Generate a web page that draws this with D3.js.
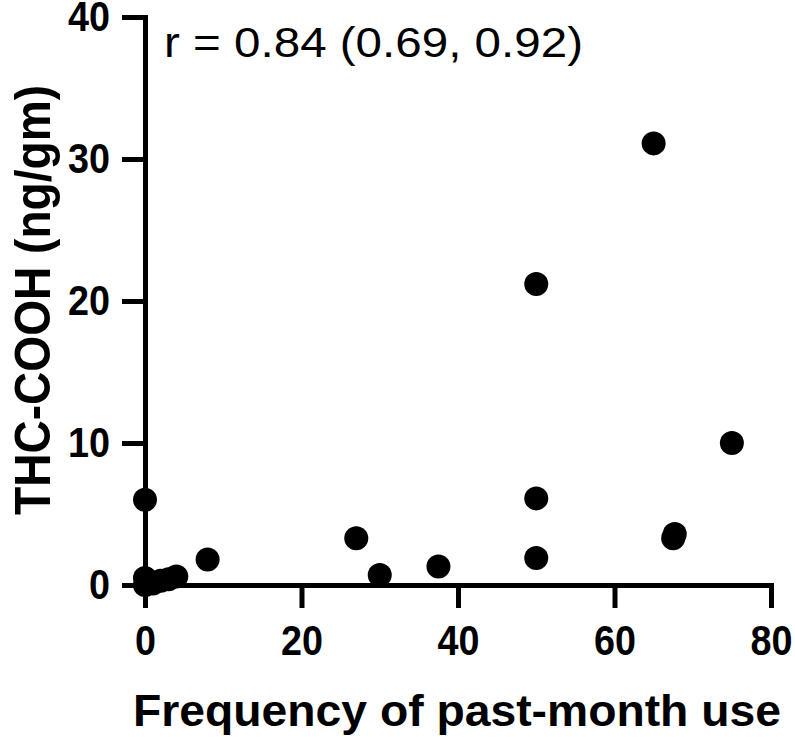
<!DOCTYPE html>
<html>
<head>
<meta charset="utf-8">
<script src="https://cdn.jsdelivr.net/npm/d3@7"></script>
<style>
  html, body { margin: 0; padding: 0; background: #fff; }
  svg { display: block; }
</style>
</head>
<body>
<svg id="chart" width="795" height="737"></svg>
<script>
// Data
const freq = [0, 0, 0, 1, 2, 3, 4, 8, 27, 30, 37.5, 50, 50, 50, 65, 67.5, 67.7, 75];
const thc  = [6.0, 0.5, 0.0, 0.1, 0.3, 0.4, 0.6, 1.8, 3.3, 0.7, 1.3, 21.2, 6.1, 1.9, 31.1, 3.3, 3.6, 10.0];
const xTicks = [0, 20, 40, 60, 80];
const yTicks = [0, 10, 20, 30, 40];
const xTitle = "Frequency of past-month use";
const yTitle = "THC-COOH (ng/gm)";
const annotation = "r = 0.84 (0.69, 0.92)";

const points = freq.map((f, i) => ({ x: f, y: thc[i] }));

const svg = d3.select("#chart");
const x = d3.scaleLinear().domain([0, 80]).range([145, 771]);
const y = d3.scaleLinear().domain([0, 40]).range([585, 17]);

const font = "'Liberation Sans', Arial, Helvetica, sans-serif";

// X axis
const gx = svg.append("g")
  .attr("transform", `translate(0,${y(0)})`)
  .call(d3.axisBottom(x).tickValues(xTicks).tickSize(23).tickSizeOuter(0).tickPadding(16));
// Y axis
const gy = svg.append("g")
  .attr("transform", `translate(${x(0)},0)`)
  .call(d3.axisLeft(y).tickValues(yTicks).tickSize(23).tickSizeOuter(0).tickPadding(12));

[gx, gy].forEach(g => {
  g.select(".domain").attr("stroke", "#000").attr("stroke-width", 5).attr("stroke-linecap", "square");
  g.selectAll(".tick line").attr("stroke", "#000").attr("stroke-width", 5);
  g.selectAll(".tick text")
    .attr("fill", "#000")
    .style("font-family", font)
    .style("font-weight", "bold")
    .style("font-size", "43px")
    .attr("textLength", function () { return this.textContent.length * 21; })
    .attr("lengthAdjust", "spacingAndGlyphs");
});

// Points
svg.append("g")
  .selectAll("circle")
  .data(points)
  .join("circle")
  .attr("cx", d => x(d.x))
  .attr("cy", d => y(d.y))
  .attr("r", 12)
  .attr("fill", "#000");

// Annotation
svg.append("text")
  .attr("x", 164)
  .attr("y", 57)
  .attr("textLength", 419)
  .attr("lengthAdjust", "spacingAndGlyphs")
  .style("font-family", font)
  .style("font-size", "42px")
  .attr("fill", "#000")
  .text(annotation);

// X title
svg.append("text")
  .attr("x", 133)
  .attr("y", 726)
  .attr("textLength", 648)
  .attr("lengthAdjust", "spacingAndGlyphs")
  .style("font-family", font)
  .style("font-weight", "bold")
  .style("font-size", "45px")
  .attr("fill", "#000")
  .text(xTitle);

// Y title
svg.append("text")
  .attr("transform", "translate(50,300) rotate(-90)")
  .attr("text-anchor", "middle")
  .attr("textLength", 430)
  .attr("lengthAdjust", "spacingAndGlyphs")
  .style("font-family", font)
  .style("font-weight", "bold")
  .style("font-size", "50px")
  .attr("fill", "#000")
  .text(yTitle);
</script>
</body>
</html>
